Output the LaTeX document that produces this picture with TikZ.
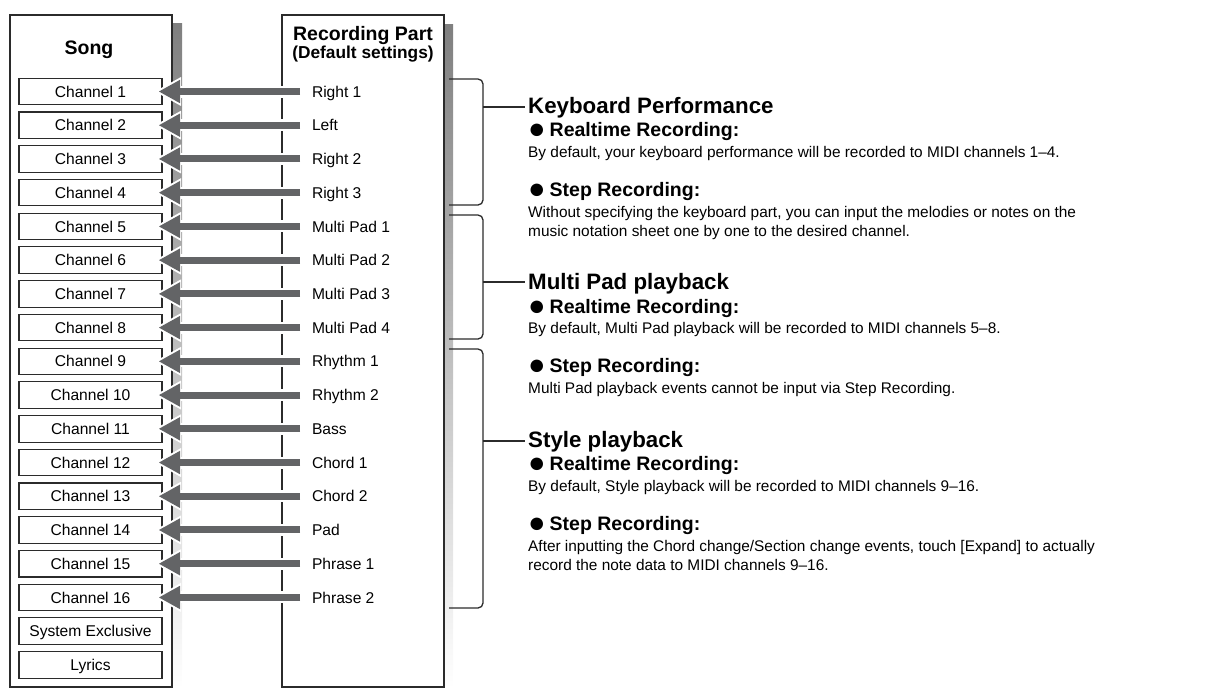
\documentclass[tikz,border=0pt]{standalone}
\usepackage{fontspec}
\setmainfont{Liberation Sans}
\usetikzlibrary{arrows.meta}
\definecolor{ink}{HTML}{2B2B2B}
\definecolor{shade}{HTML}{BDBEC2}
\definecolor{arrowgray}{HTML}{636466}
\newcommand{\bul}{\raisebox{-2pt}{\fontsize{29}{29}\selectfont ●}\hspace{4pt}}
\begin{document}
\begin{tikzpicture}[x=1pt,y=-1pt,
  outerbox/.style={draw=ink,line width=2pt,inner sep=0pt,outer sep=0pt},
  chbox/.style={draw=ink,line width=1.1pt,minimum width=143pt,minimum height=26.5pt,inner sep=0pt,outer sep=0pt,font=\fontsize{15.6}{18}\selectfont,text height=11.2pt,text depth=0pt},
  part/.style={anchor=west,inner sep=0pt,outer sep=0pt,font=\fontsize{15.6}{18}\selectfont,text height=11.2pt,text depth=0pt},
  halo/.style={draw=white,line width=12pt,-{Triangle[length=26pt,width=29pt,line width=0pt]}},
  flow/.style={draw=arrowgray,line width=7pt,-{Triangle[length=21pt,width=23.4pt,line width=0pt]}},
  brk/.style={draw=ink,line width=1.3pt,rounded corners=5pt},
  title/.style={anchor=base,inner sep=0pt,font=\bfseries\fontsize{19.5}{22}\selectfont},
  head/.style={anchor=base west,inner sep=0pt,font=\bfseries\fontsize{22.3}{24}\selectfont},
  sub/.style={anchor=base west,inner sep=0pt,font=\bfseries\fontsize{19.5}{22}\selectfont},
  body/.style={anchor=base west,inner sep=0pt,font=\fontsize{15.4}{19}\selectfont}]
\useasboundingbox (0,0) rectangle (1213,688);
% shadows
\fill[shade] (173,23) rectangle (182,688);
\fill[shade] (445,24) rectangle (453,688);
% outer boxes
\node[outerbox,minimum width=162pt,minimum height=672pt] (songbox) at (91,351) {};
\node[outerbox,minimum width=162pt,minimum height=672pt] (partbox) at (363,351) {};
% titles
\node[title] (songt) at (89,54) {Song};
\node[title] (partt) at (363,40) {Recording Part};
\node[title,font=\bfseries\fontsize{17.3}{20}\selectfont] (partd) at (363,58) {(Default settings)};
% channel boxes
\foreach \i in {1,...,16}
  \node[chbox] (ch\i) at (90.5,{91.5+33.73*(\i-1)}) {Channel \i};
\node[chbox] (sysex) at (90.5,{91.5+33.73*16}) {System Exclusive};
\node[chbox] (lyr) at (90.5,{91.5+33.73*17}) {Lyrics};
% parts
\foreach \i/\lab in {1/Right 1,2/Left,3/Right 2,4/Right 3,5/Multi Pad 1,6/Multi Pad 2,7/Multi Pad 3,8/Multi Pad 4,9/Rhythm 1,10/Rhythm 2,11/Bass,12/Chord 1,13/Chord 2,14/Pad,15/Phrase 1,16/Phrase 2}
  \node[part] (rp\i) at (312,{91.5+33.73*(\i-1)}) {\lab};
% arrows
\foreach \i in {1,...,16}
  \draw[halo] ([xshift=-11pt]rp\i.west) -- ([xshift=-7pt]ch\i.east);
\foreach \i in {1,...,16}
  \draw[flow] ([xshift=-12pt]rp\i.west) -- ([xshift=-3pt]ch\i.east);
% right texts
\node[head] (kp) at (528,113) {Keyboard Performance};
\node[sub] (kp1) at (528,136) {\bul Realtime Recording:};
\node[body] (kp2) at (528,157) {By default, your keyboard performance will be recorded to MIDI channels 1–4.};
\node[sub] (kp3) at (528,196) {\bul Step Recording:};
\node[body] (kp4) at (528,217) {Without specifying the keyboard part, you can input the melodies or notes on the};
\node[body] (kp5) at (528,236) {music notation sheet one by one to the desired channel.};
\node[head] (mp) at (528,289) {Multi Pad playback};
\node[sub] (mp1) at (528,313) {\bul Realtime Recording:};
\node[body] (mp2) at (528,333) {By default, Multi Pad playback will be recorded to MIDI channels 5–8.};
\node[sub] (mp3) at (528,372) {\bul Step Recording:};
\node[body] (mp4) at (528,393) {Multi Pad playback events cannot be input via Step Recording.};
\node[head] (sp) at (528,447) {Style playback};
\node[sub] (sp1) at (528,470) {\bul Realtime Recording:};
\node[body] (sp2) at (528,491) {By default, Style playback will be recorded to MIDI channels 9–16.};
\node[sub] (sp3) at (528,530) {\bul Step Recording:};
\node[body] (sp4) at (528,551) {After inputting the Chord change/Section change events, touch [Expand] to actually};
\node[body] (sp5) at (528,570) {record the note data to MIDI channels 9–16.};
% brackets
\draw[brk] (449,79) -| (483,205) -- (449,205);
\draw[brk] (449,215) -| (483,339) -- (449,339);
\draw[brk] (449,349) -| (483,608) -- (449,608);
\draw[brk] (483,107) -- ([xshift=-3pt,yshift=6pt]kp.base west);
\draw[brk] (483,282) -- ([xshift=-3pt,yshift=7pt]mp.base west);
\draw[brk] (483,441) -- ([xshift=-3pt,yshift=6pt]sp.base west);
\end{tikzpicture}
\end{document}
